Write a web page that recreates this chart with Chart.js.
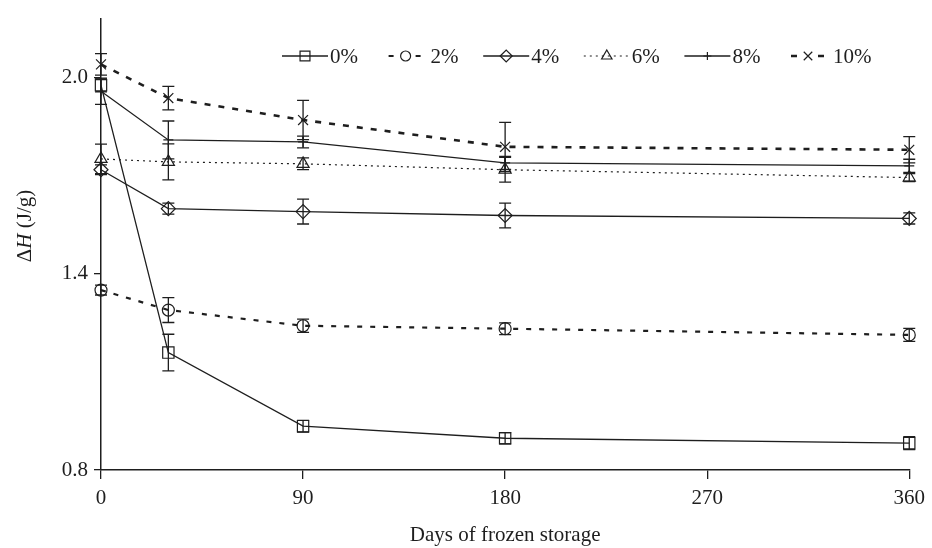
<!DOCTYPE html>
<html>
<head>
<meta charset="utf-8">
<script src="https://cdn.jsdelivr.net/npm/chart.js@4.4.0/dist/chart.umd.min.js"></script>
<style>
  html, body { margin: 0; padding: 0; background: #fff; }
</style>
</head>
<body>
<canvas id="chart" width="932" height="548"></canvas>
<script>
// storage days
const days = [0, 30, 90, 180, 360];
const seriesNames = ['0%', '2%', '4%', '6%', '8%', '10%'];
const yTicks = [0.8, 1.4, 2.0];

// enthalpy values (J/g) and their error bars
const dh0 = [1.976, 1.159, 0.934, 0.897, 0.882];
const dh2 = [1.350, 1.289, 1.241, 1.232, 1.213];
const dh4 = [1.718, 1.599, 1.590, 1.578, 1.569];
const dh6 = [1.751, 1.742, 1.736, 1.718, 1.694];
const dh8 = [1.958, 1.809, 1.803, 1.739, 1.730];
const dh10 = [2.040, 1.937, 1.870, 1.788, 1.779];

const err0 = [0.020, 0.056, 0.018, 0.017, 0.020];
const err2 = [0.015, 0.038, 0.020, 0.018, 0.020];
const err4 = [0.015, 0.017, 0.038, 0.038, 0.017];
const err6 = [0.045, 0.055, 0.018, 0.038, 0.012];
const err8 = [0.040, 0.058, 0.018, 0.020, 0.020];
const err10 = [0.033, 0.036, 0.060, 0.075, 0.040];

const ink = '#1e1e1e';
const serif = "'Liberation Serif', 'Times New Roman', serif";

function makeSet(i, values, errors, style, radius, width, dash) {
  return {
    label: seriesNames[i],
    data: days.map((d, k) => ({ x: d, y: values[k] })),
    errors: errors,
    borderColor: ink,
    borderWidth: width,
    borderDash: dash,
    pointStyle: style,
    pointRadius: radius,
    pointHoverRadius: radius,
    pointBorderColor: ink,
    pointBorderWidth: 1.2,
    pointBackgroundColor: 'rgba(0,0,0,0)',
    tension: 0,
    fill: false,
    clip: false
  };
}

const datasets = [
  makeSet(0, dh0, err0, 'rect', 8, 1.3, []),
  makeSet(1, dh2, err2, 'circle', 6, 2.2, [5, 8]),
  makeSet(2, dh4, err4, 'rectRot', 7, 1.3, []),
  makeSet(3, dh6, err6, 'triangle', 7, 1.2, [2, 4]),
  makeSet(4, dh8, err8, 'cross', 5, 1.3, []),
  makeSet(5, dh10, err10, 'crossRot', 7, 2.6, [6, 8])
];

// vertical error bars with caps
const errorBars = {
  id: 'errorBars',
  afterDatasetsDraw(chart) {
    const ctx = chart.ctx;
    const y = chart.scales.y;
    ctx.save();
    ctx.strokeStyle = ink;
    ctx.lineWidth = 1.3;
    chart.data.datasets.forEach((ds, i) => {
      const meta = chart.getDatasetMeta(i);
      meta.data.forEach((pt, k) => {
        const v = ds.data[k].y;
        const e = ds.errors[k];
        const top = y.getPixelForValue(v + e);
        const bot = y.getPixelForValue(v - e);
        ctx.beginPath();
        ctx.moveTo(pt.x, top); ctx.lineTo(pt.x, bot);
        ctx.moveTo(pt.x - 6, top); ctx.lineTo(pt.x + 6, top);
        ctx.moveTo(pt.x - 6, bot); ctx.lineTo(pt.x + 6, bot);
        ctx.stroke();
      });
    });
    ctx.restore();
  }
};

// legend drawn inside the plot, line sample + marker + label
const lineLegend = {
  id: 'lineLegend',
  afterDraw(chart) {
    const ctx = chart.ctx;
    const y0 = 56;
    ctx.save();
    chart.data.datasets.forEach((ds, i) => {
      const x0 = 282 + i * 100.6;
      ctx.strokeStyle = ink;
      ctx.lineWidth = ds.borderWidth;
      ctx.setLineDash(ds.borderDash);
      ctx.beginPath();
      if (ds.borderDash.length && ds.borderDash[0] > 3) {
        ctx.moveTo(x0 + 6, y0); ctx.lineTo(x0 + 13, y0);
        ctx.moveTo(x0 + 33, y0); ctx.lineTo(x0 + 40, y0);
      } else {
        ctx.moveTo(x0, y0); ctx.lineTo(x0 + 46, y0);
      }
      ctx.stroke();
      ctx.setLineDash([]);
      ctx.lineWidth = 1.2;
      ctx.fillStyle = 'rgba(0,0,0,0)';
      Chart.helpers.drawPoint(ctx, {
        pointStyle: ds.pointStyle,
        radius: ds.pointRadius - 1,
        rotation: 0,
        borderWidth: 1.2
      }, x0 + 23, y0);
      ctx.fillStyle = ink;
      ctx.font = '21px ' + serif;
      ctx.textBaseline = 'middle';
      ctx.textAlign = 'left';
      ctx.fillText(ds.label, x0 + 48, y0 + 1);
    });
    ctx.restore();
  }
};

// y title with italic H
const yTitle = {
  id: 'yTitle',
  afterDraw(chart) {
    const ctx = chart.ctx;
    const parts = [['Δ', ''], ['H', 'italic '], [' (J/g)', '']];
    ctx.save();
    ctx.translate(25, 226);
    ctx.rotate(-Math.PI / 2);
    ctx.fillStyle = ink;
    ctx.textBaseline = 'middle';
    let total = 0;
    parts.forEach(p => { ctx.font = p[1] + '21px ' + serif; total += ctx.measureText(p[0]).width; });
    let x = -total / 2;
    parts.forEach(p => {
      ctx.font = p[1] + '21px ' + serif;
      ctx.fillText(p[0], x, 0);
      x += ctx.measureText(p[0]).width;
    });
    ctx.restore();
  }
};

new Chart(document.getElementById('chart'), {
  type: 'line',
  data: { datasets: datasets },
  plugins: [errorBars, lineLegend, yTitle],
  options: {
    responsive: false,
    animation: false,
    layout: { padding: { top: 16, right: 22, left: 0, bottom: 0 } },
    plugins: {
      legend: { display: false },
      tooltip: { enabled: false }
    },
    scales: {
      x: {
        type: 'linear',
        min: 0,
        max: 360,
        ticks: { stepSize: 90, color: ink, padding: 7, font: { family: serif, size: 21 } },
        grid: { display: true, drawOnChartArea: false, tickLength: 9, color: ink, lineWidth: 1.3 },
        border: { display: true, color: ink, width: 1.5 },
        title: { display: true, text: 'Days of frozen storage', color: ink, font: { family: serif, size: 21 }, padding: 0 },
        afterFit(s) { s.height = 78; }
      },
      y: {
        type: 'linear',
        min: 0.8,
        max: 2.18,
        afterBuildTicks(s) { s.ticks = yTicks.map(v => ({ value: v })); },
        ticks: { color: ink, padding: 6, font: { family: serif, size: 21 }, callback: v => v.toFixed(1) },
        grid: { display: true, drawOnChartArea: false, tickLength: 7, color: ink, lineWidth: 1.3 },
        border: { display: true, color: ink, width: 1.5 },
        afterFit(s) { s.width = 101; }
      }
    }
  }
});
</script>
</body>
</html>
